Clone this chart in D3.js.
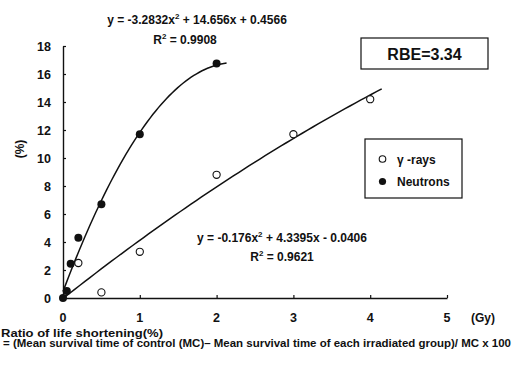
<!DOCTYPE html>
<html>
<head>
<meta charset="utf-8">
<script src="https://cdn.jsdelivr.net/npm/d3@7"></script>
<style>
  html, body { margin: 0; padding: 0; background: #fff; }
  svg { display: block; }
  text { font-family: "Liberation Sans", Arial, sans-serif; font-weight: bold; fill: #111; }
</style>
</head>
<body>
<svg id="chart" width="512" height="376"></svg>
<script>
// Dose (Gy) and ratio of life shortening (%)
const gammaDose = [0.2, 0.5, 1, 2, 3, 4];
const gammaValue = [2.5, 0.4, 3.3, 8.8, 11.7, 14.2];
const neutronDose = [0, 0.05, 0.1, 0.2, 0.5, 1, 2];
const neutronValue = [0, 0.5, 2.45, 4.3, 6.7, 11.7, 16.75];

// Quadratic trend-line coefficients [a, b, c] for y = a x^2 + b x + c
const gammaFit = [-0.176, 4.3395, -0.0406];
const neutronFit = [-3.2832, 14.656, 0.4566];
const gammaFitRange = [0.01, 4.15];
const neutronFitRange = [0, 2.13];

const xTicks = [0, 1, 2, 3, 4, 5];
const yTicks = [0, 2, 4, 6, 8, 10, 12, 14, 16, 18];

const svg = d3.select("#chart");
const x = d3.scaleLinear().domain([0, 5]).range([63, 447]);
const y = d3.scaleLinear().domain([0, 18]).range([298, 46]);

const ink = "#111";

// Axes
const xAxis = svg.append("g").attr("transform", `translate(0,${y(0)})`)
  .call(d3.axisTop(x).tickValues(xTicks).tickSize(3).tickSizeOuter(0).tickFormat(""));
const yAxis = svg.append("g").attr("transform", `translate(${x(0)},0)`)
  .call(d3.axisRight(y).tickValues(yTicks).tickSize(3).tickSizeOuter(0).tickFormat(""));
[xAxis, yAxis].forEach(g => {
  g.select(".domain").attr("stroke", ink).attr("stroke-width", 1.4);
  g.selectAll(".tick line").attr("stroke", ink).attr("stroke-width", 1.2);
});

// Tick labels
svg.append("g").selectAll("text").data(xTicks).join("text")
  .attr("x", d => x(d)).attr("y", 322)
  .attr("text-anchor", "middle").attr("font-size", 12.5).text(d => d);
svg.append("text").attr("x", 483).attr("y", 322).attr("text-anchor", "middle")
  .attr("font-size", 12).text("(Gy)");
svg.append("g").selectAll("text").data(yTicks).join("text")
  .attr("x", 51).attr("y", d => y(d) + 4.5)
  .attr("text-anchor", "end").attr("font-size", 12.5).text(d => d);
svg.append("text").attr("transform", "translate(24,149) rotate(-90)")
  .attr("text-anchor", "middle").attr("font-size", 12).text("(%)");

// Trend lines
function fitPoints(coef, range) {
  return d3.range(0, 61).map(i => {
    const d = range[0] + (range[1] - range[0]) * i / 60;
    return [d, coef[0] * d * d + coef[1] * d + coef[2]];
  });
}
const line = d3.line().x(d => x(d[0])).y(d => y(d[1]));
svg.append("path").attr("d", line(fitPoints(gammaFit, gammaFitRange)))
  .attr("fill", "none").attr("stroke", ink).attr("stroke-width", 1.5);
svg.append("path").attr("d", line(fitPoints(neutronFit, neutronFitRange)))
  .attr("fill", "none").attr("stroke", ink).attr("stroke-width", 1.5);

// Data markers
svg.append("g").selectAll("circle").data(d3.zip(gammaDose, gammaValue)).join("circle")
  .attr("cx", d => x(d[0])).attr("cy", d => y(d[1])).attr("r", 3.6)
  .attr("fill", "#fff").attr("stroke", ink).attr("stroke-width", 1.1);
svg.append("g").selectAll("circle").data(d3.zip(neutronDose, neutronValue)).join("circle")
  .attr("cx", d => x(d[0])).attr("cy", d => y(d[1])).attr("r", 4)
  .attr("fill", ink);

// Equation labels with superscript exponents
function supText(px, py, before, after) {
  const t = svg.append("text").attr("x", px).attr("y", py)
    .attr("text-anchor", "middle").attr("font-size", 12);
  t.append("tspan").text(before);
  t.append("tspan").attr("font-size", 8).attr("dy", -5).text("2");
  t.append("tspan").attr("dy", 5).text(after);
}
supText(197, 24, "y = -3.2832x", " + 14.656x + 0.4566");
supText(185, 44, "R", " = 0.9908");
supText(282, 242, "y = -0.176x", " + 4.3395x - 0.0406");
supText(282, 261, "R", " = 0.9621");

// RBE box
svg.append("rect").attr("x", 361).attr("y", 38).attr("width", 127).attr("height", 31)
  .attr("fill", "#fff").attr("stroke", ink).attr("stroke-width", 1.2);
svg.append("text").attr("x", 424.5).attr("y", 59.5).attr("text-anchor", "middle")
  .attr("font-size", 16).text("RBE=3.34");

// Legend
const legend = svg.append("g");
legend.append("rect").attr("x", 365).attr("y", 139).attr("width", 97).attr("height", 59)
  .attr("fill", "#fff").attr("stroke", ink).attr("stroke-width", 1.2);
legend.append("circle").attr("cx", 382.5).attr("cy", 159).attr("r", 3.3)
  .attr("fill", "#fff").attr("stroke", ink).attr("stroke-width", 1.1);
legend.append("circle").attr("cx", 382.5).attr("cy", 181.5).attr("r", 3.6).attr("fill", ink);
legend.append("text").attr("x", 397).attr("y", 163.5).attr("font-size", 12).text("γ -rays");
legend.append("text").attr("x", 397).attr("y", 186).attr("font-size", 12).text("Neutrons");

// Footnote
svg.append("text").attr("x", 1).attr("y", 337).attr("font-size", 10)
  .attr("textLength", 162).attr("lengthAdjust", "spacingAndGlyphs")
  .text("Ratio of life shortening(%)");
svg.append("text").attr("x", 3).attr("y", 347).attr("font-size", 10)
  .attr("textLength", 508).attr("lengthAdjust", "spacingAndGlyphs")
  .text("= (Mean survival time of control  (MC)– Mean survival time of each irradiated group)/ MC x 100");
</script>
</body>
</html>
